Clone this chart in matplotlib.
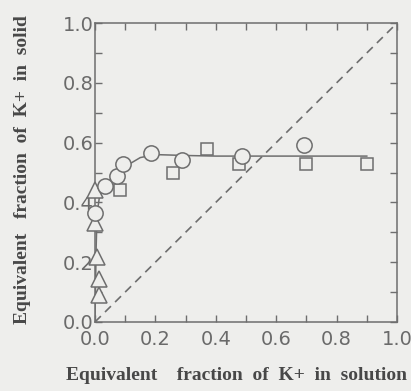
import matplotlib
matplotlib.use("Agg")
import matplotlib.pyplot as plt
from matplotlib.ticker import MultipleLocator

# Data
circle_x = [0.0, 0.033, 0.072, 0.094, 0.186, 0.287, 0.488, 0.693]
circle_y = [0.366, 0.454, 0.487, 0.53, 0.565, 0.543, 0.554, 0.593]

square_x = [0.083, 0.26, 0.37, 0.478, 0.70, 0.90]
square_y = [0.44, 0.50, 0.58, 0.53, 0.53, 0.53]

tri_x = [0.013, 0.013, 0.006, 0.0, 0.0]
tri_y = [0.09, 0.145, 0.217, 0.33, 0.44]

fit_x = [0.0, 0.002, 0.004, 0.007, 0.015, 0.03, 0.06, 0.1, 0.15, 0.2, 0.3, 0.4, 0.5, 0.7, 0.9]
fit_y = [0.0, 0.12, 0.25, 0.36, 0.42, 0.455, 0.485, 0.52, 0.55, 0.56, 0.557, 0.555, 0.555, 0.555, 0.555]

diag_x = [0.0, 1.0]
diag_y = [0.0, 1.0]

xticks = [0.0, 0.2, 0.4, 0.6, 0.8, 1.0]
yticks = [0.0, 0.2, 0.4, 0.6, 0.8, 1.0]
xlabel = "Equivalent    fraction  of  K+  in  solution"
ylabel = "Equivalent   fraction  of  K+  in  solid"

bg = "#eeeeec"
ink = "#6e6e6e"

fig = plt.figure(figsize=(4.11, 3.91), dpi=100, facecolor=bg)
ax = fig.add_axes([0.231, 0.1765, 0.735, 0.7645], facecolor=bg)

ax.plot(diag_x, diag_y, linestyle=(0, (5, 3.5)), color=ink, lw=1.2)
ax.plot(fit_x, fit_y, '-', color=ink, lw=1.1)
ms_kw = dict(linestyle='none', markerfacecolor=bg, markeredgecolor=ink,
             markeredgewidth=1.1, clip_on=False, zorder=3)
ax.plot(square_x, square_y, marker='s', markersize=8.5, **ms_kw)
ax.plot(tri_x, tri_y, marker='^', markersize=11, **ms_kw)
ax.plot(circle_x, circle_y, marker='o', markersize=11, **ms_kw)

ax.set_xlim(0, 1)
ax.set_ylim(0, 1)
ax.set_xticks(xticks)
ax.set_yticks(yticks)
ax.set_xticklabels([f"{v:.1f}" for v in xticks])
ax.set_yticklabels([f"{v:.1f}" for v in yticks])
ax.xaxis.set_minor_locator(MultipleLocator(0.1))
ax.yaxis.set_minor_locator(MultipleLocator(0.1))
ax.tick_params(which='both', direction='in', top=True, right=True, length=5,
               width=1, color=ink)
ax.tick_params(axis='both', labelsize=14, labelcolor='#6a6a6a')
ax.tick_params(axis='x', pad=6)
ax.tick_params(axis='y', pad=1)
for s in ax.spines.values():
    s.set_color(ink)
    s.set_linewidth(1.1)

ax.set_xlabel(xlabel, fontfamily='Liberation Serif', fontweight='bold',
              fontsize=14, color='#484848')
ax.set_ylabel(ylabel, fontfamily='Liberation Serif', fontweight='bold',
              fontsize=14, color='#484848')
ax.xaxis.set_label_coords(0.469, -0.15)
ax.yaxis.set_label_coords(-0.212, 0.51)

fig.savefig("out.png", dpi=100, facecolor=bg)
